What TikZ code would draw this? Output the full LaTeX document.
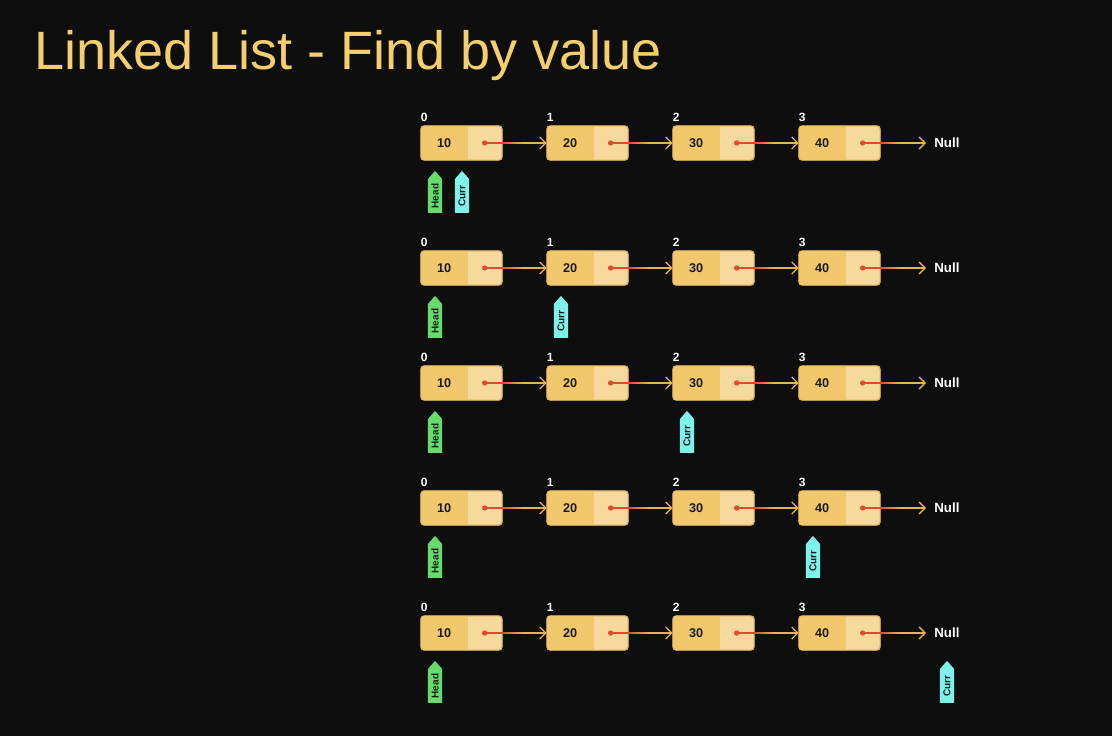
\documentclass[tikz,border=0pt]{standalone}
\usepackage{fontspec}
\setmainfont{Liberation Sans}
\usetikzlibrary{shapes.symbols,arrows.meta,calc}
\definecolor{bg}{HTML}{0E0E0E}
\definecolor{ttl}{HTML}{F5CF6E}
\definecolor{boxL}{HTML}{F2C86C}
\definecolor{boxR}{HTML}{F6D99C}
\definecolor{boxB}{HTML}{E2B560}
\definecolor{lnk}{HTML}{E04A32}
\definecolor{arr}{HTML}{E2B456}
\definecolor{headc}{HTML}{66DD6A}
\definecolor{currc}{HTML}{7FF2EC}
\definecolor{txt}{HTML}{1A1A1A}
\begin{document}
\begin{tikzpicture}[x=0.75pt,y=-0.75pt,
  cell/.style={draw=boxB,line width=0.5pt,fill=boxR,rounded corners=2.5pt,minimum width=60.75pt,minimum height=25.5pt,inner sep=0pt},
  val/.style={font=\bfseries\fontsize{9.5}{10}\selectfont,text=txt},
  idx/.style={font=\bfseries\fontsize{9}{10}\selectfont,text=white,anchor=south west,inner sep=0pt},
  ptr/.style={signal,signal to=east,signal pointer angle=82,rotate=90,minimum height=10.8pt,minimum width=31.5pt,inner sep=1pt,font=\bfseries\fontsize{7.5}{8}\selectfont,text=txt,rounded corners=0.6pt},
  headp/.style={ptr,fill=headc},
  currp/.style={ptr,fill=currc},
  nulltxt/.style={font=\bfseries\fontsize{10}{11}\selectfont,text=white,anchor=west,inner sep=0pt},
  linkseg/.style={line width=0.9pt},
  goldlink/.style={draw=arr,line width=0.9pt,-{Straight Barb[length=4.5pt,width=9pt,line width=1pt]}},
  dotc/.style={circle,fill=lnk,inner sep=0pt,minimum size=4pt}
]
\fill[bg] (0,0) rectangle (1112,736);
\useasboundingbox (0,0) rectangle (1112,736);
\node[anchor=base west,inner sep=0pt,text=ttl,font=\fontsize{40.5}{44}\selectfont] (title) at (34,69) {Linked List - Find by value};

\foreach \r/\cy/\cx in {1/143/462,2/268/561,3/383/687,4/508/813,5/633/947}{
  \foreach \i/\v in {0/10,1/20,2/30,3/40}{
    \node[cell] (b-\r-\i) at ({421+126*\i+40.5},\cy) {};
    \begin{scope}
      \clip[rounded corners=2.5pt] (b-\r-\i.north west) rectangle (b-\r-\i.south east);
      \fill[boxL] (b-\r-\i.north west) rectangle ($(b-\r-\i.south west)+(47,0)$);
    \end{scope}
    \draw[boxB,line width=0.5pt,rounded corners=2.5pt] (b-\r-\i.north west) rectangle (b-\r-\i.south east);
    \node[val] (v-\r-\i) at ($(b-\r-\i.west)+(23.5,0)$) {\v};
    \node[idx] (i-\r-\i) at ($(b-\r-\i.north west)+(0,-4)$) {\i};
    \node[dotc] (d-\r-\i) at ($(b-\r-\i.west)+(64,0)$) {};
    \coordinate (m-\r-\i) at ($(b-\r-\i.east)+(20,0)$);
    \draw[linkseg,lnk] (d-\r-\i.center) -- (b-\r-\i.east);
    \foreach \k in {0,...,9}{
      \pgfmathsetmacro{\pc}{100-10*\k}
      \draw[linkseg,color=lnk!\pc!arr] ($(b-\r-\i.east)+(2*\k,0)$) -- ($(b-\r-\i.east)+(2*\k+2.3,0)$);
    }
  }
  \node[nulltxt] (n-\r) at (934,\cy) {Null};
  \foreach \i/\j in {0/1,1/2,2/3}{
    \draw[goldlink] (m-\r-\i) -- (b-\r-\j.west);
  }
  \draw[goldlink] (m-\r-3) -- ($(n-\r.west)+(-8,0)$);
  \node[headp] (h-\r) at (435,{\cy+53}) {Head};
  \node[currp] (c-\r) at (\cx,{\cy+53}) {Curr};
}
\end{tikzpicture}
\end{document}
